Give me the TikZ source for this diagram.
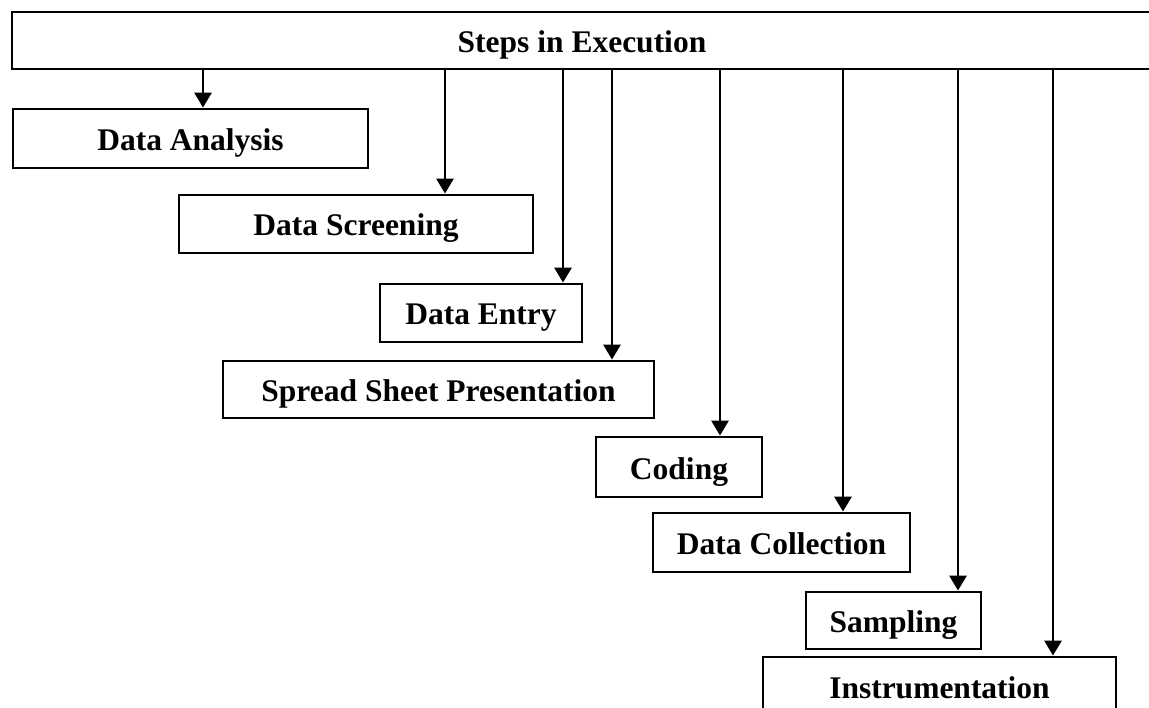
\documentclass[tikz,border=0pt]{standalone}
\usepackage{fontspec}
\setmainfont{Liberation Serif}
\usetikzlibrary{arrows.meta}

\tikzset{
  stepbox/.style={draw, line width=2.8pt, inner sep=0pt, minimum height=58,
    text height=24pt, text depth=0pt, font=\fontsize{31.5}{36}\selectfont\bfseries},
  arr/.style={line width=2.8pt, -{Triangle[width=17pt,length=15pt]}},
}

\begin{document}
\begin{tikzpicture}[x=1pt,y=-1pt]
\useasboundingbox (0,0) rectangle (1149,708);
% head box
\node[stepbox, minimum width=1140, minimum height=57] (steps) at (582,40.5) {Steps in Execution};
% steps
\node[stepbox, minimum width=355, minimum height=59] (analysis) at (190.5,138.5) {Data Analysis};
\node[stepbox, minimum width=354] (screening) at (356,224) {Data Screening};
\node[stepbox, minimum width=202] (entry) at (481,313) {Data Entry};
\node[stepbox, minimum width=431, minimum height=57] (spread) at (438.5,389.5) {Spread Sheet Presentation};
\node[stepbox, minimum width=166, minimum height=60] (coding) at (679,467) {Coding};
\node[stepbox, minimum width=257, minimum height=59] (collection) at (781.5,542.5) {Data Collection};
\node[stepbox, minimum width=175, minimum height=57] (sampling) at (893.5,620.5) {Sampling};
\node[stepbox, minimum width=353] (instr) at (939.5,686) {Instrumentation};
% arrows
\foreach \x/\n in {203/analysis,445/screening,563/entry,612/spread,720/coding,843/collection,958/sampling,1053/instr}
  \draw[arr] (steps.south -| \x,0) -- (\n.north -| \x,0);
\end{tikzpicture}
\end{document}
